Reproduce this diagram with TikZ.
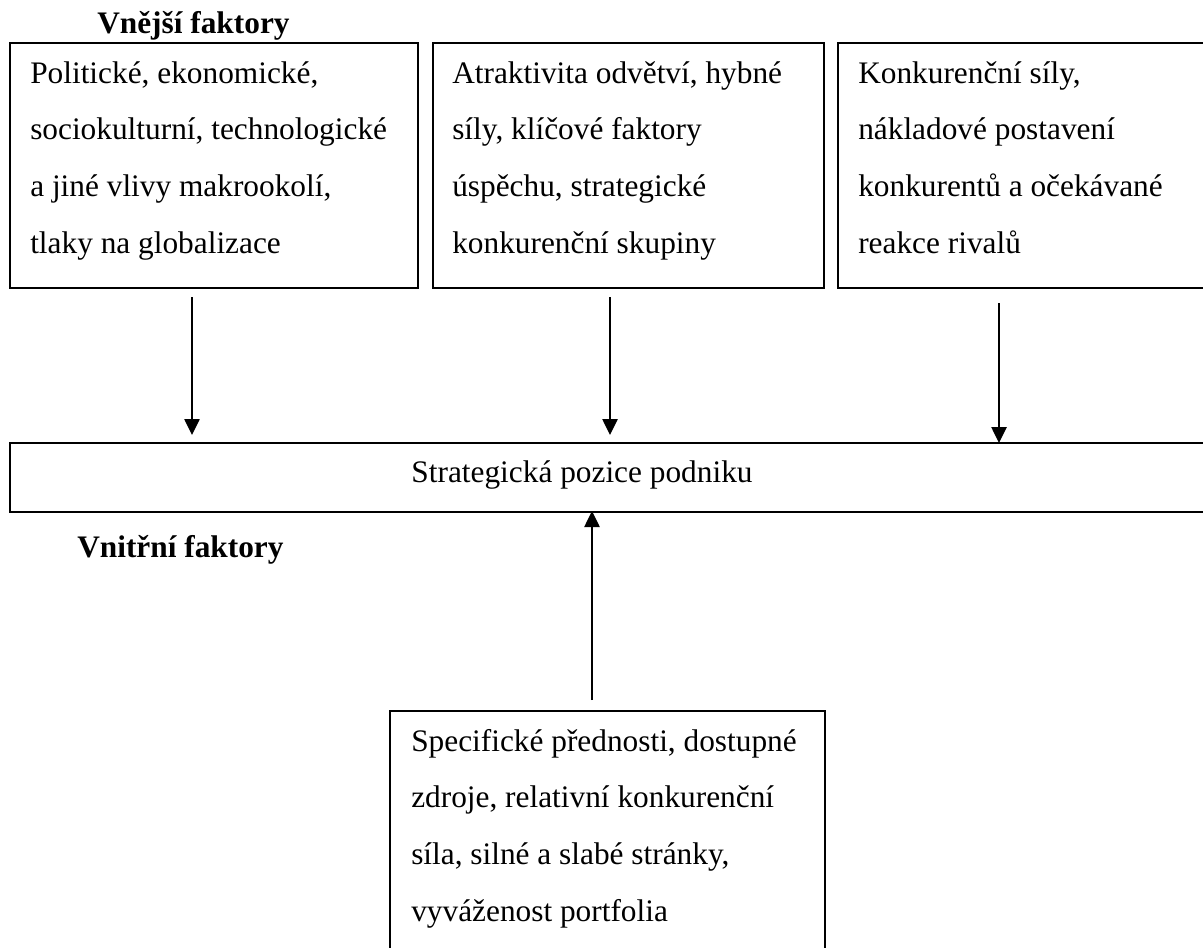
\documentclass[tikz,border=0pt]{standalone}
\usepackage{fontspec}
\setmainfont{Liberation Serif}
\usetikzlibrary{arrows.meta}
\tikzset{
  frame/.style={draw=black, line width=1.4pt, inner sep=0pt, anchor=north west},
  txt/.style={anchor=base west, inner sep=0pt, font=\fontsize{23.5}{42.5}\selectfont},
  head/.style={anchor=base west, inner sep=0pt, font=\fontsize{23.5}{28}\selectfont\bfseries},
  arr/.style={line width=1.1pt, -{Triangle[length=12pt, width=11.5pt]}}
}
\newcommand{\boxtext}[1]{\parbox[t]{420pt}{\raggedright #1}}
\begin{document}
\begin{tikzpicture}[x=0.75pt, y=-0.75pt]
  \clip (0,0) rectangle (1203,947);
  \fill[white] (0,0) rectangle (1203,947);

  % outer boxes
  \node[frame, minimum width=306pt, minimum height=183.75pt] (b1) at (9,42) {};
  \node[frame, minimum width=293.25pt, minimum height=183.75pt] (b2) at (432,42) {};
  \node[frame, minimum width=282pt, minimum height=183.75pt] (b3) at (837,42) {};
  \node[frame, minimum width=910pt, minimum height=51.75pt] (pos) at (9,442) {};
  \node[frame, minimum width=326.25pt, minimum height=190pt] (inner) at (389,710) {};

  % headings
  \node[head] (hout) at (97,33) {Vnější faktory};
  \node[head] (hin) at (77,557) {Vnitřní faktory};

  % box texts
  \node[txt] (t1) at (30,83) {\boxtext{Politické, ekonomické,\\sociokulturní, technologické\\a jiné vlivy makrookolí,\\tlaky na globalizace}};
  \node[txt] (t2) at (452,83) {\boxtext{Atraktivita odvětví, hybné\\síly, klíčové faktory\\úspěchu, strategické\\konkurenční skupiny}};
  \node[txt] (t3) at (858,83) {\boxtext{Konkurenční síly,\\nákladové postavení\\konkurentů a očekávané\\reakce rivalů}};
  \node[txt, anchor=base] (tpos) at (582,482) {Strategická pozice podniku};
  \node[txt] (t4) at (411,751) {\boxtext{Specifické přednosti, dostupné\\zdroje, relativní konkurenční\\síla, silné a slabé stránky,\\vyváženost portfolia}};

  % connector end points
  \coordinate (s1) at (192,297);
  \coordinate (e1) at (192,435);
  \coordinate (s2) at (610,297);
  \coordinate (e2) at (610,435);
  \coordinate (s3) at (999,303);
  \coordinate (e3) at (999,443);
  \coordinate (s4) at (592,700);
  \coordinate (e4) at (592,511);

  \draw[arr] (s1) -- (e1);
  \draw[arr] (s2) -- (e2);
  \draw[arr] (s3) -- (e3);
  \draw[arr] (s4) -- (e4);
\end{tikzpicture}
\end{document}
